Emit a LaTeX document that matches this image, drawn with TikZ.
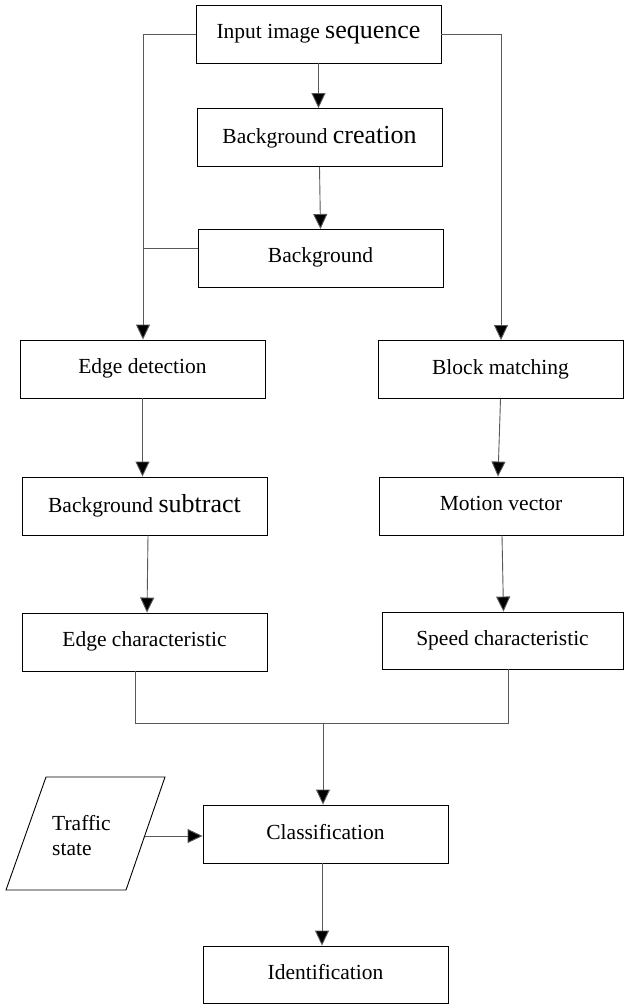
\documentclass[tikz,border=0pt]{standalone}
\usepackage{fontspec}
\setmainfont{Liberation Serif}
\newfontfamily\timesfont{Liberation Serif}
\usetikzlibrary{arrows.meta}
\tikzset{
  box/.style={draw=black, line width=0.9pt, minimum width=245pt, minimum height=58pt, inner sep=0pt, font=\timesfont\fontsize{21.5}{25}\selectfont},
  conn/.style={draw=black!65, line width=0.9pt},
  arr/.style={conn, -{Triangle[length=15pt,width=14pt,fill=black]}},
}
\newcommand{\bigword}[1]{{\fontsize{26}{29}\selectfont #1}}
\newcommand{\upword}[1]{\raisebox{5pt}{#1}}
\begin{document}
\begin{tikzpicture}[x=1pt,y=-1pt]
\useasboundingbox[fill=white] (0,0) rectangle (624,1006);
\node[box] (in)  at (318.5,34)  {Input image \bigword{sequence}};
\node[box] (bgc) at (319.5,137.5) {Background \bigword{creation}};
\node[box] (bg)  at (320.5,258) {\upword{Background}};
\node[box] (ed)  at (142.5,369) {\upword{Edge detection}};
\node[box] (bm)  at (500.5,369.5) {\upword{Block matching}};
\node[box] (bs)  at (144.5,506) {Background \bigword{subtract}};
\node[box, minimum width=244pt] (mv)  at (501,506) {\upword{Motion vector}};
\node[box] (ec)  at (144.5,642) {\upword{Edge characteristic}};
\node[box, minimum width=241pt, minimum height=57pt] (sc)  at (502.5,640.5) {\upword{Speed characteristic}};
\node[box] (cl)  at (325.5,834) {\upword{Classification}};
\node[box, minimum height=57pt] (id)  at (325.5,974.5) {\upword{Identification}};
% traffic state parallelogram
\coordinate (tsbl) at (6,890);
\coordinate (tsbr) at (126,890);
\coordinate (tstr) at (165,777);
\coordinate (tstl) at (46,777);
\draw[line width=0.9pt] (tsbl) -- (tsbr) -- (tstr) -- (tstl) -- cycle;
\node[anchor=west, align=left, inner sep=0pt, font=\timesfont\fontsize{21.5}{25}\selectfont] (ts) at (52,836) {Traffic\\state};
\coordinate (tse) at (144.5,836);
% connectors
\coordinate (lt) at (143,34);
\coordinate (rt) at (501,34);
\draw[arr] (in.west) -- (lt) -- (ed.north -| lt);
\draw[arr] (in.east) -- (rt) -- (bm.north -| rt);
\draw[arr] (in.south) -- (bgc.north -| in.south);
\draw[arr] (319.5,167) coordinate (bgcs) -- (320.5,229) coordinate (bgn);
\draw[conn] (bg.west |- 0,248) coordinate (bgw) -- (bgw -| lt);
\draw[arr] (ed.south) -- (bs.north -| ed.south);
\draw[arr] (bs.south -| 148,0) coordinate (bss) -- (ec.north -| 147,0);
\draw[arr] (bm.south -| 500.5,0) coordinate (bms) -- (mv.north -| 498,0);
\draw[arr] (mv.south -| 502,0) coordinate (mvs) -- (sc.north -| 503.5,0);
\coordinate (mj) at (323,723);
\draw[conn] (ec.south -| 135,0) -- (135,723) -- (508,723) -- (sc.south -| 508,0);
\draw[arr] (mj) -- (cl.north -| mj);
\draw[arr] (tse) -- (cl.west |- tse);
\draw[arr] (cl.south -| 322,0) -- (id.north -| 322,0);
\end{tikzpicture}
\end{document}
